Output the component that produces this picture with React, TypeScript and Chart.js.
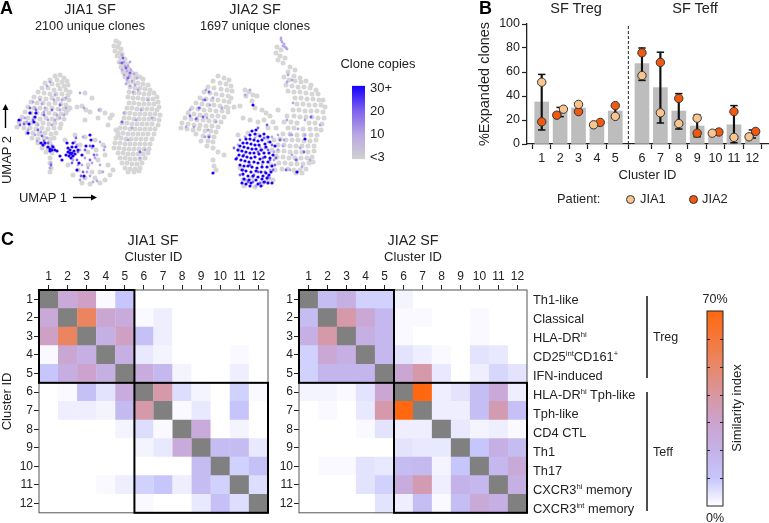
import React, { useEffect, useRef } from "react";
import { Chart, registerables } from "chart.js";

Chart.register(...registerables);

const FONT = "'Liberation Sans', Arial, sans-serif";
const INK = "#222222";

// ---------- Panel A: UMAP points ----------
const jia1Grey = [[55,76],[60,75],[64,78],[50,80],[57,80],[62,82],[67,81],[45,83],[52,84],[58,85],[64,86],[68,85],[42,88],[48,88],[54,90],[60,89],[66,90],[38,92],[44,93],[50,94],[56,94],[62,94],[68,95],[70,92],[34,97],[40,98],[46,99],[52,98],[58,99],[64,99],[69,100],[31,102],[37,103],[43,103],[49,104],[55,103],[61,104],[66,105],[28,107],[34,108],[40,108],[46,109],[52,108],[58,109],[64,109],[68,110],[25,112],[31,113],[37,113],[43,114],[49,113],[55,114],[61,114],[66,113],[22,117],[28,118],[34,118],[40,119],[46,118],[52,119],[58,118],[64,119],[19,122],[25,123],[31,123],[37,124],[43,123],[49,124],[55,123],[61,124],[17,127],[24,128],[30,128],[36,129],[42,128],[48,129],[54,128],[60,128],[27,133],[33,133],[39,134],[45,133],[51,134],[56,133],[32,138],[38,139],[44,138],[50,139],[54,138],[38,143],[44,144],[50,143],[42,148],[48,148],[53,147],[46,152],[52,153],[50,158],[50,163],[51,168],[50,172],
[77,107],[82,106],[86,110],[70,108],[90,112],[85,93],[92,98],[100,110],[105,113],[110,118],[108,125],[112,115],[98,118],[85,120],[116,130],[118,135],[65,140],[75,135],[85,137],[95,140],[103,145],[68,165],[78,170],[88,165],[98,160],[105,155],[108,165],[92,172],[85,178],[95,178],[100,183],[90,184],[82,183],[110,175],[113,170],[73,175],[80,145],[88,152],[96,150],[100,172],[105,180],
[116,41],[119,43],[114,46],[118,47],[121,49],[115,51],[119,53],[122,54],[117,56],[121,58],[125,59],[119,62],[123,63],[127,64],[121,67],[125,68],[129,69],[123,72],[127,73],[132,73],[136,74],[125,77],[130,77],[135,78],[140,77],[143,79],[128,82],[133,82],[138,83],[143,84],[148,85],[130,87],[135,88],[140,88],[145,89],[150,90],[129,92],[134,93],[139,93],[144,94],[149,94],[154,93],[157,97],[128,97],[133,98],[138,98],[143,99],[148,99],[153,99],[158,102],[129,103],[134,103],[139,104],[144,104],[149,104],[154,104],[159,107],[127,108],[132,108],[137,109],[142,109],[147,109],[152,109],[157,110],[125,113],[130,113],[135,114],[140,114],[145,114],[150,114],[155,114],[160,115],[124,118],[129,118],[134,119],[139,119],[144,119],[149,119],[154,119],[159,120],[122,123],[127,123],[132,124],[137,124],[142,124],[147,124],[152,124],[158,125],[120,128],[125,128],[130,129],[135,129],[140,129],[145,129],[150,129],[155,129],[118,133],[123,133],[128,134],[133,134],[138,134],[143,134],[148,134],[154,134],[116,138],[121,138],[126,139],[131,139],[136,139],[141,139],[146,139],[152,139],[115,143],[120,143],[125,144],[130,144],[135,144],[140,144],[145,144],[150,144],[114,148],[119,148],[124,149],[129,149],[134,149],[139,149],[144,149],[149,149],[118,153],[123,153],[128,154],[133,154],[138,154],[143,154],[148,153],[120,158],[125,158],[130,159],[135,159],[140,159],[145,158],[122,163],[127,163],[132,164],[137,164],[142,163],[125,168],[130,169],[135,169],[140,168],[128,172],[134,172],[139,171]];
const jia1Light = [[122,55],[124,62],[125,66],[120,63],[128,66],[122,70],[127,71],[131,70],[124,75],[129,76],[134,74],[127,80],[132,81],[137,78],[130,86],[135,85],[138,90],[133,92],[50,82],[40,100],[55,95],[62,100],[45,108],[35,108],[57,115],[48,120],[30,113],[25,118],[38,125],[60,118],[28,130],[35,135],[50,168],[51,163],[83,137],[77,145],[100,142],[105,147],[82,165],[88,168],[95,158],[100,165],[84,178],[90,176],[97,181],[104,150],[124,113],[132,128],[145,150],[152,118],[80,93],[99,110],[47,86],[54,100],[42,104],[66,98],[60,110],[33,102],[21,120],[27,122],[44,112],[52,125],[41,132],[47,138],[37,141],[55,120],[64,115],[75,142],[80,150],[92,148],[97,155],[73,160],[78,165],[85,158],[92,163],[87,172],[80,180],[93,182],[103,172],[130,62],[126,84],[141,110],[136,120],[148,100],[128,140],[140,158],[84,108],[66,108]];
const jia1Mid = [[122,63],[126,68],[130,73],[128,78],[123,58],[30,108],[36,110],[44,115],[33,120],[24,124],[20,125],[52,110],[60,105],[38,130],[42,136],[44,141],[48,143],[52,146],[76,138],[78,152],[85,150],[90,146],[94,155],[72,163],[77,160],[83,172],[81,176],[90,160],[51,165],[140,152],[122,122]];
const jia1Blue = [[30,113],[36,113],[35,117],[34,122],[29,124],[19,120],[28,133],[41,143],[43,145],[45,143],[48,147],[50,149],[52,150],[55,150],[57,151],[53,147],[68,152],[70,150],[72,153],[74,151],[66,155],[69,156],[71,158],[73,156],[75,154],[68,148],[72,147],[76,147],[73,143],[67,143],[62,160],[60,156],[78,150],[86,146],[90,135],[91,140],[93,146],[82,155],[79,163],[77,170],[84,176],[50,151],[71,154],[70,153]];

const jia2Grey = [[218,76],[224,78],[229,80],[213,81],[220,83],[226,84],[231,86],[208,87],[214,88],[221,89],[227,90],[232,91],[204,92],[210,93],[216,94],[222,95],[228,96],[231,98],[200,98],[206,99],[212,100],[218,100],[224,101],[229,102],[196,103],[202,104],[208,105],[214,105],[220,106],[226,107],[192,108],[198,109],[204,110],[210,110],[216,111],[222,111],[228,112],[188,113],[194,114],[200,115],[206,115],[212,116],[218,116],[224,117],[185,118],[191,119],[197,120],[203,120],[209,121],[215,121],[221,122],[182,123],[188,124],[194,125],[200,125],[206,126],[212,126],[218,127],[181,128],[187,129],[193,130],[199,129],[205,131],[211,131],[216,132],[196,134],[203,136],[209,136],[214,137],[201,141],[208,141],[213,142],[207,146],[213,148],[218,152],[224,155],[213,160],[214,166],[216,170],
[245,90],[249,92],[253,95],[257,96],[246,96],[252,101],[234,107],[240,106],[228,108],[255,108],[262,110],[266,113],[270,116],[264,120],[273,122],[258,122],[250,120],[243,118],[278,110],[276,128],[268,128],
[277,47],[281,50],[276,53],[280,56],[285,58],[278,60],[283,63],[290,67],[295,70],[288,72],[294,76],[300,78],[284,77],[289,80],[295,81],[301,82],[306,81],[311,85],[286,85],[292,86],[298,87],[304,87],[310,88],[316,90],[288,91],[294,92],[300,92],[306,93],[312,94],[318,94],[295,98],[301,98],[307,99],[313,99],[319,100],[323,100],[297,104],[303,104],[309,105],[315,105],[321,105],[325,107],[293,110],[299,110],[305,111],[311,111],[317,111],[323,112],[287,116],[294,116],[300,117],[306,117],[312,117],[318,118],[324,118],[284,122],[291,122],[297,123],[309,123],[315,123],[322,124],[288,128],[294,128],[303,129],[310,129],[316,129],[321,130],[283,134],[290,134],[297,135],[304,135],[311,135],[317,135],[280,139],[286,140],[292,140],[298,140],[304,141],[310,141],[316,140],[278,145],[284,145],[290,146],[296,146],[302,146],[308,146],[314,146],[278,151],[284,151],[290,152],[296,152],[302,152],[308,152],[314,151],[277,157],[283,157],[289,158],[295,158],[301,158],[307,158],[312,157],[279,163],[285,163],[291,164],[297,164],[303,164],[309,163],[313,162],[282,169],[288,169],[294,170],[300,170],[306,169],[296,173],[302,173],
[238,135],[248,133],[258,135],[267,138],[274,140],[239,150],[272,150],[276,156],[240,168],[271,165],[275,170],[243,180],[252,178],[262,184],[268,180],[244,186],[255,187],[273,180]];
const jia2Light = [[281,40],[282,42],[284,44],[283,46],[285,47],[287,49],[281,38],[286,48],[288,75],[287,82],[292,80],[206,90],[210,105],[190,110],[200,108],[213,98],[197,118],[207,118],[222,108],[186,127],[205,137],[293,103],[305,120],[290,135],[300,148],[297,160],[284,140],[278,150],[310,160],[260,147],[270,178],[274,160],[243,175],[268,142],[245,137],[255,138],[250,90],[245,95],[320,125],[305,135],[203,100],[216,122],[194,127],[208,130],[272,137],[278,135],[283,146],[292,155],[290,170],[302,167],[265,148],[274,152],[262,165],[270,170],[256,186],[246,180],[238,145],[292,135],[298,129],[287,120]];
const jia2Mid = [[209,92],[205,100],[199,108],[190,116],[203,117],[196,119],[234,148],[258,128],[264,138],[272,145],[268,150],[265,172],[276,158],[280,140],[240,140],[244,155],[262,150],[250,165],[258,172],[248,182],[265,182],[254,175],[243,170],[273,170],[237,158],[240,175],[296,160],[286,170],[304,152],[209,137],[267,125],[311,117],[263,158],[270,160],[258,152],[275,165],[268,177],[260,183],[253,182]];
const jia2Blue = [[253,105],[213,173],[305,139],[297,172],[252,131],[256,130],[250,135],[255,134],[260,136],[264,134],[268,137],[246,139],[250,139],[254,140],[258,141],[262,140],[243,143],[247,143],[251,144],[255,145],[259,145],[265,144],[270,142],[240,146],[244,147],[248,148],[252,149],[256,149],[261,150],[266,147],[238,150],[242,151],[246,152],[250,153],[254,153],[259,154],[264,153],[269,153],[275,146],[239,155],[243,156],[247,157],[251,158],[255,157],[260,159],[265,157],[270,158],[236,159],[241,160],[245,161],[249,162],[254,162],[258,163],[263,162],[268,162],[273,155],[240,165],[244,166],[248,166],[252,167],[257,168],[262,167],[267,167],[272,166],[242,170],[246,171],[251,172],[256,171],[261,172],[266,173],[271,172],[243,174],[248,176],[253,176],[258,177],[263,176],[269,175],[244,179],[249,180],[256,180],[262,179],[267,178],[242,183],[246,184],[251,183],[258,184],[264,182],[268,183],[272,183],[261,186],[250,186]];

// ---------- Panel B ----------
const clusterIds = ["1","2","3","4","5","6","7","8","9","10","11","12"];
const clusterAxisPos = [1,2,3,4,5,6.45,7.45,8.45,9.45,10.45,11.45,12.45];
const meanExpanded = [35,26.5,30,17,27.5,67,47,27.5,15,10,16,8.5];
const jia1Expanded = [51.5,29,33,16,23,57,26,17,21.5,9,5.5,6];
const jia2Expanded = [18.5,24,27,18,32,76,68,38,9,10,27,10.5];
const jia1Offset = [0,0.18,0,-0.18,0,0,0,0,0,-0.18,0,-0.18];
const jia2Offset = [0,-0.18,0,0.18,0,0,0,0,0,0.18,0,0.18];
const errLow = [11.7,22.8,26.5,15.5,22,53,17.5,12.5,6,9,1,5];
const errHigh = [58,30.5,33.5,18,33,80,76.5,42,24,10,32,11.7];
const separatorPos = 5.71;

// ---------- Panel C ----------
const N = null;
const jia1Matrix = [
  [N,26,32,1,10,0,0,0,0,0,0,0],
  [26,N,52,28,25,1,3,0,0,0,0,0],
  [32,52,N,22,32,13,3,0,0,0,0,0],
  [1,28,22,N,22,4,2,0,0,0,1,0],
  [10,23,30,22,N,24,17,2,0,0,3,0],
  [0,1,13,5,24,N,38,6,2,0,8,1],
  [0,3,3,2,16,38,N,1,4,0,11,0],
  [0,0,0,0,2,6,1,N,25,0,2,0],
  [0,0,0,0,0,2,4,25,N,15,15,4],
  [0,0,0,0,0,0,0,0,15,N,8,13],
  [0,0,0,1,3,8,10,3,15,8,N,6],
  [0,0,0,0,0,1,0,0,4,13,6,N],
];
const jia2Matrix = [
  [N,15,22,8,8,2,0,0,0,0,0,0],
  [15,N,38,27,17,1,1,0,0,1,0,0],
  [22,38,N,22,17,1,0,0,0,1,0,0],
  [8,27,22,N,17,5,3,1,0,5,4,0],
  [8,18,18,18,N,28,38,4,0,3,7,5],
  [2,2,1,5,28,N,70,3,5,14,26,3],
  [0,1,0,4,38,70,N,3,3,14,36,13],
  [0,0,0,1,5,3,3,N,4,2,3,1],
  [0,0,0,0,0,5,4,4,N,10,22,15],
  [0,1,1,5,4,15,16,2,10,N,17,26],
  [0,0,0,5,8,24,36,3,20,17,N,22],
  [0,0,0,0,5,3,14,1,14,26,22,N],
];
const blocks = [[0,4],[5,11]];
const phenotypes = ["Th1-like","Classical","HLA-DR^hi^","CD25^int^CD161^+^","IFN-induced","HLA-DR^hi^ Tph-like","Tph-like","CD4 CTL","Th1","Th17","CXCR3^hi^ memory","CXCR3^int^ memory"];
const similarityStops: [number, number[]][] = [[0,[255,255,255]],[10,[198,198,252]],[20,[196,178,232]],[30,[204,163,205]],[40,[216,150,160]],[50,[232,136,105]],[60,[244,120,60]],[70,[255,104,16]]];
const copyTicks = [0,10,20,30];
const copyTickLabels = ["<3","10","20","30+"];
const similarityTicks = [10,20,30,40,50,60];

function similarityColor(v: number | null) {
  if (v === null) return "#808080";
  for (let i = 1; i < similarityStops.length; i++) {
    const [b, cb] = similarityStops[i];
    const [a, ca] = similarityStops[i - 1];
    if (v <= b) {
      const t = (v - a) / (b - a);
      return `rgb(${ca.map((c, k) => Math.round(c + (cb[k] - c) * t)).join(",")})`;
    }
  }
  return "#ff6810";
}

const fixedSize = (size: number, prop: "width" | "height") => (s: any) => { s[prop] = size; };
const pts = (a: number[][]) => a.map(([x, y]) => ({ x, y }));

function umapConfig(grey: number[][], light: number[][], mid: number[][], blue: number[][], minX: number) {
  const ds = (label: string, d: number[][], color: string, r: number) => ({
    label, data: pts(d), backgroundColor: color, borderWidth: 0, pointRadius: r,
  });
  return {
    type: "scatter",
    data: { datasets: [
      ds("3 or fewer", grey, "#d6d6d6", 2.5),
      ds("about 10", light, "#b7a4ea", 1.4),
      ds("about 20", mid, "#7d5ff0", 1.4),
      ds("30+", blue, "#1a00f5", 1.6),
    ].reverse().map((d, i) => ({ ...d, order: i })) },
    options: {
      animation: false, responsive: false,
      layout: { autoPadding: false, padding: 0 },
      plugins: { legend: { display: false }, tooltip: { enabled: false } },
      scales: {
        x: { type: "linear", min: minX, max: minX + 170, display: false },
        y: { type: "linear", min: 30, max: 195, reverse: true, display: false },
      },
    },
  };
}

function expandedConfig() {
  return {
    type: "bar",
    data: { datasets: [
      { type: "scatter", label: "JIA1", order: 0, data: jia1Expanded.map((y, i) => ({ x: clusterAxisPos[i] + jia1Offset[i], y })), backgroundColor: "#f9c58f", borderColor: "#333", borderWidth: 1, pointRadius: 4.2 },
      { type: "scatter", label: "JIA2", order: 0, data: jia2Expanded.map((y, i) => ({ x: clusterAxisPos[i] + jia2Offset[i], y })), backgroundColor: "#f0590e", borderColor: "#333", borderWidth: 1, pointRadius: 4.2 },
      { type: "scatter", label: "low", order: 1, data: errLow.map((y, i) => ({ x: clusterAxisPos[i], y })), pointStyle: "line", pointRadius: 3.7, borderColor: "#111", borderWidth: 1.5 },
      { type: "scatter", label: "high", order: 1, data: errHigh.map((y, i) => ({ x: clusterAxisPos[i], y })), pointStyle: "line", pointRadius: 3.7, borderColor: "#111", borderWidth: 1.5 },
      { type: "bar", label: "sd", order: 2, grouped: false, barThickness: 1.5, backgroundColor: "#111", data: errLow.map((lo, i) => ({ x: clusterAxisPos[i], y: [lo, errHigh[i]] })) },
      { type: "line", label: "separator", order: 3, data: [{ x: separatorPos, y: 0 }, { x: separatorPos, y: 100 }], borderColor: "#222", borderWidth: 1, borderDash: [3, 2], pointRadius: 0 },
      { type: "bar", label: "mean", order: 4, grouped: false, barThickness: 14, backgroundColor: "#bdbdbd", data: meanExpanded.map((y, i) => ({ x: clusterAxisPos[i], y })) },
    ] },
    options: {
      animation: false, responsive: false,
      layout: { autoPadding: false, padding: { top: 10, right: 1, bottom: 0, left: 0 } },
      plugins: { legend: { display: false }, tooltip: { enabled: false } },
      scales: {
        x: {
          type: "linear", min: 0.2, max: 13.3, offset: false,
          afterBuildTicks: (s: any) => { s.ticks = clusterAxisPos.map((value) => ({ value })); },
          afterFit: fixedSize(41, "height"),
          grid: { display: true, drawOnChartArea: false, tickLength: 5, tickColor: INK, tickWidth: 1.2 },
          border: { display: true, color: INK, width: 1.3 },
          ticks: { autoSkip: false, maxRotation: 0, padding: 2, color: INK, font: { family: FONT, size: 12.5 }, callback: (_: any, i: number) => clusterIds[i] },
          title: { display: true, text: "Cluster ID", color: INK, font: { family: FONT, size: 13 }, padding: { top: 0, bottom: 2 } },
        },
        y: {
          type: "linear", min: 0, max: 100,
          afterFit: fixedSize(51, "width"),
          grid: { display: true, drawOnChartArea: false, tickLength: 5, tickColor: INK, tickWidth: 1.2 },
          border: { display: true, color: INK, width: 1.3 },
          ticks: { stepSize: 20, padding: 2, color: INK, font: { family: FONT, size: 12.5 } },
          title: { display: true, text: "%Expanded clones", color: INK, font: { family: FONT, size: 14.5 }, padding: { top: 0, bottom: 0 } },
        },
      },
    },
  };
}

const blockFrames = {
  id: "blockFrames",
  afterDatasetsDraw(chart: any) {
    const { ctx, chartArea: a, scales: { x, y } } = chart;
    const hx = (x.getPixelForTick(1) - x.getPixelForTick(0)) / 2;
    const hy = (y.getPixelForTick(1) - y.getPixelForTick(0)) / 2;
    ctx.save();
    ctx.strokeStyle = "#555";
    ctx.lineWidth = 1;
    ctx.strokeRect(a.left, a.top, a.right - a.left, a.bottom - a.top);
    ctx.strokeStyle = "#000";
    ctx.lineWidth = 2;
    for (const [s, e] of blocks) {
      const x0 = x.getPixelForTick(s) - hx, x1 = x.getPixelForTick(e) + hx;
      const y0 = y.getPixelForTick(s) - hy, y1 = y.getPixelForTick(e) + hy;
      ctx.strokeRect(x0, y0, x1 - x0, y1 - y0);
    }
    ctx.restore();
  },
};

function heatConfig(matrix: (number | null)[][], showYTitle: boolean, plotLeft: number) {
  const cells: any[] = [];
  matrix.forEach((row, r) => row.forEach((v, c) => cells.push({ x: clusterIds[c], y: clusterIds[r], v })));
  return {
    type: "scatter",
    data: { datasets: [{
      label: "Similarity index", data: cells, pointStyle: "rect", pointRadius: 13.6, borderWidth: 0,
      backgroundColor: (ctx: any) => similarityColor(ctx.raw ? ctx.raw.v : 0),
    }] },
    plugins: [blockFrames],
    options: {
      animation: false, responsive: false,
      layout: { autoPadding: false, padding: { top: 0, right: 2, bottom: 3, left: 0 } },
      plugins: { legend: { display: false }, tooltip: { enabled: false } },
      scales: {
        x: {
          type: "category", labels: clusterIds, position: "top", offset: true,
          afterFit: fixedSize(45, "height"),
          grid: { display: true, offset: false, drawOnChartArea: false, tickLength: 5, tickColor: INK, tickWidth: 1 },
          border: { display: false },
          ticks: { autoSkip: false, maxRotation: 0, padding: 1, color: INK, font: { family: FONT, size: 12 } },
          title: { display: true, text: "Cluster ID", color: INK, font: { family: FONT, size: 13 }, padding: { top: 5, bottom: 0 } },
        },
        y: {
          type: "category", labels: clusterIds, offset: true,
          afterFit: fixedSize(plotLeft, "width"),
          grid: { display: true, offset: false, drawOnChartArea: false, tickLength: 5, tickColor: INK, tickWidth: 1 },
          border: { display: false },
          ticks: { autoSkip: false, padding: 1, color: INK, font: { family: FONT, size: 12 } },
          title: { display: showYTitle, text: "Cluster ID", color: INK, font: { family: FONT, size: 13 }, padding: { top: 0, bottom: 0 } },
        },
      },
    },
  };
}

function gradientBar(chart: any, stops: [number, string][]) {
  const a = chart.chartArea;
  if (!a) return "#ccc";
  const g = chart.ctx.createLinearGradient(0, a.bottom, 0, a.top);
  stops.forEach(([o, c]) => g.addColorStop(o, c));
  return g;
}

const barFrame = {
  id: "barFrame",
  afterDatasetsDraw(chart: any, _: any, opts: any) {
    const { ctx, chartArea: a, scales: { y } } = chart;
    if (!opts.ticks) return;
    ctx.save();
    ctx.strokeStyle = "#222";
    ctx.lineWidth = 1;
    ctx.strokeRect(a.left, a.top, a.right - a.left, a.bottom - a.top);
    opts.ticks.forEach((t: number) => {
      const p = Math.round(y.getPixelForValue(t)) + 0.5;
      ctx.beginPath();
      ctx.moveTo(a.left, p); ctx.lineTo(a.left + 3, p);
      ctx.moveTo(a.right - 3, p); ctx.lineTo(a.right, p);
      ctx.stroke();
    });
    ctx.restore();
  },
};

function similarityBarConfig() {
  return {
    type: "bar",
    data: { labels: ["Similarity index"], datasets: [{
      data: [70], barPercentage: 1, categoryPercentage: 1,
      backgroundColor: (ctx: any) => gradientBar(ctx.chart, similarityStops.map(([v, c]) => [v / 70, `rgb(${c.join(",")})`])),
    }] },
    plugins: [barFrame],
    options: {
      animation: false, responsive: false,
      layout: { autoPadding: false, padding: { top: 1, right: 1, bottom: 1, left: 1 } },
      plugins: { legend: { display: false }, tooltip: { enabled: false }, barFrame: { ticks: similarityTicks } },
      scales: { x: { display: false }, y: { display: false, min: 0, max: 70 } },
    },
  };
}

function copiesBarConfig() {
  return {
    type: "bar",
    data: { labels: ["Clone copies"], datasets: [{
      data: [31], base: -0.7, barPercentage: 1, categoryPercentage: 1,
      backgroundColor: (ctx: any) => gradientBar(ctx.chart, [[0, "#d0d0d0"], [0.33, "#b9a8e2"], [0.66, "#7f62ee"], [1, "#1400ff"]]),
    }] },
    options: {
      animation: false, responsive: false,
      layout: { autoPadding: false, padding: { top: 10, right: 0, bottom: 10, left: 0 } },
      plugins: { legend: { display: false }, tooltip: { enabled: false } },
      scales: {
        x: { display: false },
        y: {
          position: "right", min: -0.7, max: 31,
          afterBuildTicks: (s: any) => { s.ticks = copyTicks.map((value) => ({ value })); },
          afterFit: fixedSize(32, "width"),
          grid: { display: false, drawTicks: false }, border: { display: false },
          ticks: { padding: 5, color: INK, font: { family: FONT, size: 13 }, callback: (_: any, i: number) => copyTickLabels[i] },
        },
      },
    },
  };
}

function Plot({ make, left, top, width, height }: any) {
  const ref = useRef<HTMLCanvasElement>(null);
  useEffect(() => {
    const chart = new Chart(ref.current as any, make());
    return () => chart.destroy();
  }, []);
  return <canvas ref={ref} width={width} height={height} style={{ position: "absolute", left, top, width, height, display: "block" }} />;
}

function T({ x, y, size = 12, bold = false, rot = 0, align = "center", children }: any) {
  const tx = align === "center" ? "-50%" : "0";
  return (
    <div style={{ position: "absolute", left: x, top: y, transform: `translate(${tx},-50%) rotate(${rot}deg)`, fontFamily: FONT, fontSize: size, fontWeight: bold ? 700 : 400, color: bold ? "#000" : INK, whiteSpace: "nowrap", lineHeight: 1 }}>
      {children}
    </div>
  );
}

function Rich({ text }: { text: string }) {
  return <>{text.split("^").map((p, i) => i % 2 ? <sup key={i} style={{ fontSize: "60%", lineHeight: 0, verticalAlign: "0.55em" }}>{p}</sup> : <span key={i}>{p}</span>)}</>;
}

const Dot = ({ x, y, color }: any) => <div style={{ position: "absolute", left: x - 4.5, top: y - 4.5, width: 9, height: 9, boxSizing: "border-box", borderRadius: "50%", background: color, border: "1px solid #333" }} />;

export default function App() {
  return (
    <div style={{ position: "absolute", left: 0, top: 0, width: 769, height: 523, overflow: "hidden", background: "#fff" }}>
      <Plot make={() => umapConfig(jia1Grey, jia1Light, jia1Mid, jia1Blue, 0)} left={0} top={30} width={170} height={165} />
      <Plot make={() => umapConfig(jia2Grey, jia2Light, jia2Mid, jia2Blue, 170)} left={170} top={30} width={170} height={165} />
      <Plot make={copiesBarConfig} left={352} top={73} width={45} height={99} />
      <Plot make={expandedConfig} left={476} top={14} width={293} height={171} />
      <Plot make={() => heatConfig(jia1Matrix, true, 39)} left={0} top={245} width={270} height={276} />
      <Plot make={() => heatConfig(jia2Matrix, false, 29)} left={270} top={245} width={259} height={276} />
      <Plot make={similarityBarConfig} left={706} top={310} width={18} height={197} />

      <svg width={769} height={523} style={{ position: "absolute", left: 0, top: 0, pointerEvents: "none" }}>
        <g stroke="#000" strokeWidth={1.4} fill="#000">
          <line x1={5.5} y1={128} x2={5.5} y2={108} />
          <path d="M5.5 104 L8.5 110 L2.5 110 Z" stroke="none" />
          <line x1={73} y1={197.5} x2={93} y2={197.5} />
          <path d="M97 197.5 L91 194.5 L91 200.5 Z" stroke="none" />
          <line x1={647} y1={296} x2={647} y2={378} />
          <line x1={647} y1={392} x2={647} y2={511} />
        </g>
      </svg>

      <T x={0} y={8} size={18} bold align="left">A</T>
      <T x={479} y={8} size={18} bold align="left">B</T>
      <T x={1} y={239} size={18} bold align="left">C</T>

      <T x={90} y={9} size={14.5}>JIA1 SF</T>
      <T x={90} y={26} size={12.7}>2100 unique clones</T>
      <T x={255} y={9} size={14.5}>JIA2 SF</T>
      <T x={255} y={26} size={12.7}>1697 unique clones</T>
      <T x={378} y={63} size={13}>Clone copies</T>
      <T x={6} y={160} size={13} rot={-90}>UMAP 2</T>
      <T x={43} y={197} size={13}>UMAP 1</T>

      <T x={576} y={8} size={14.5}>SF Treg</T>
      <T x={695} y={8} size={14.5}>SF Teff</T>
      <T x={557} y={199} size={12.8} align="left">Patient:</T>
      <Dot x={630} y={199} color="#f9c58f" />
      <T x={640} y={199} size={12.8} align="left">JIA1</T>
      <Dot x={693} y={199} color="#f0590e" />
      <T x={702} y={199} size={12.8} align="left">JIA2</T>

      <T x={153} y={240} size={14.3}>JIA1 SF</T>
      <T x={413} y={240} size={14.3}>JIA2 SF</T>

      {phenotypes.map((p, i) => <T key={p} x={533} y={299.5 + i * 19} size={12.8} align="left"><Rich text={p} /></T>)}
      <T x={653} y={337} size={12.5} align="left">Treg</T>
      <T x={653} y={452} size={12.5} align="left">Teff</T>
      <T x={715} y={299} size={12.5}>70%</T>
      <T x={715} y={518} size={12.5}>0%</T>
      <T x={736} y={408} size={13} rot={-90}>Similarity index</T>
    </div>
  );
}
